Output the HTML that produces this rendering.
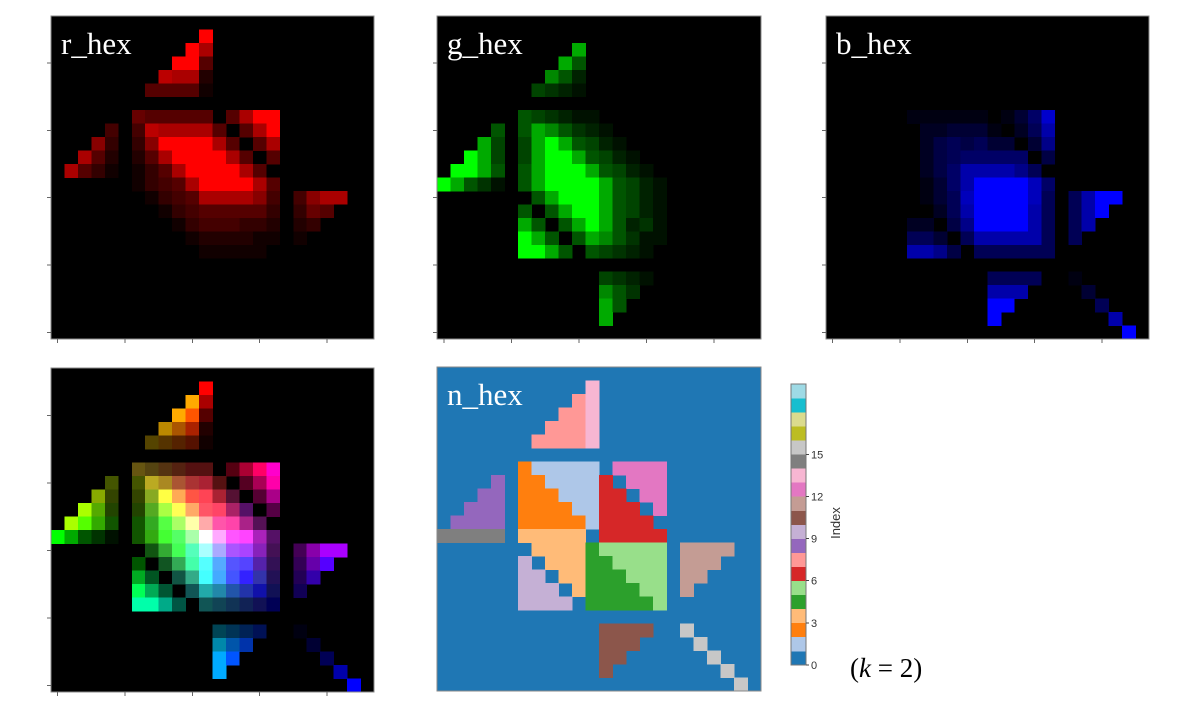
<!DOCTYPE html>
<html><head><meta charset="utf-8"><style>
html,body{margin:0;padding:0;background:#fff;}
svg{display:block;}
text{font-family:"Liberation Serif",serif;}
</style></head>
<body>
<svg id="fig" width="1184" height="716" viewBox="0 0 1184 716" xmlns="http://www.w3.org/2000/svg" shape-rendering="crispEdges"></svg>
<script>
const categoriesIndex = ["0","1","2","3","4","5","6","7","8","9","10","11","12","13","14","15","16","17","18","19"];
const palette = ["#1f77b4","#aec7e8","#ff7f0e","#ffbb78","#2ca02c","#98df8a","#d62728","#ff9896","#9467bd","#c5b0d5","#8c564b","#c49c94","#e377c2","#f7b6d2","#7f7f7f","#c7c7c7","#bcbd22","#dbdb8d","#17becf","#9edae5"];
const colorbarTicks = [0,3,6,9,12,15];
const axisTicks = [0,5,10,15,20];
const nRows = [
"000000000000000000000000",
"00000000000d000000000000",
"00000000007d000000000000",
"00000000077d000000000000",
"00000000777d000000000000",
"00000007777d000000000000",
"000000000000000000000000",
"0000002111110cccc0000000",
"00008022111160ccc0000000",
"000880222111660cc0000000",
"0088802222116660c0000000",
"088880222221666600000000",
"eeeee0333330666660000000",
"000000033334555550bbbb00",
"000000903334455550bbb000",
"000000990334445550bb0000",
"000000999034444550b00000",
"000000999904444450000000",
"000000000000000000000000",
"000000000000aaaa00f00000",
"000000000000aaa0000f0000",
"000000000000aa000000f000",
"000000000000a00000000f00",
"0000000000000000000000f0"
];
const rgbRows = [
"",
"11=f00",
"10=fa0 11=a00",
"9=fa0 10=f50 11=500",
"8=b80 9=a50 10=a20 11=200",
"7=540 8=530 9=520 10=510 11=100",
"",
"6=651 7=541 8=531 9=521 10=511 11=511 13=501 14=a03 15=f06 16=f0c",
"4=450 6=450 7=ba2 8=a82 9=a53 10=a33 11=a23 12=511 14=502 15=a05 16=f0a",
"3=8a0 4=340 6=340 7=8a2 8=ff4 9=fa5 10=f54 11=f45 12=a23 13=513 15=503 16=a08",
"2=af0 3=5a0 4=240 6=240 7=5a2 8=af4 9=ff5 10=fa6 11=f56 12=f46 13=a26 14=516 16=504",
"1=af0 2=5f0 3=3a0 4=150 6=150 7=3a2 8=5f4 9=af6 10=ffa 11=faa 12=f5a 13=f4a 14=a28 15=515",
"0=0f0 1=0a0 2=050 3=030 4=010 6=150 7=3a1 8=4f3 9=5f6 10=afa 11=fff 12=faf 13=f5f 14=f4f 15=a2b 16=516",
"7=151 8=3a3 9=4f5 10=5fb 11=aff 12=aaf 13=a5f 14=a4f 15=82b 16=415 18=405 19=80a 20=a0f 21=a0f",
"6=050 8=152 9=3a5 10=4fa 11=5ff 12=5af 13=55f 14=54f 15=52a 16=315 18=305 19=60a 20=50f",
"6=0a2 7=052 9=154 10=3a8 11=4ff 12=4af 13=45f 14=32f 15=33a 16=215 18=205 19=30a",
"6=0f5 7=0a5 8=053 10=155 11=2aa 12=28a 13=25a 14=23a 15=11a 16=115 18=105",
"6=0fa 7=0fa 8=0a8 9=054 11=155 12=145 13=135 14=125 15=115 16=005",
"",
"12=045 13=035 14=025 15=015 18=001",
"12=08a 13=05a 14=03a 19=003",
"12=0af 13=05f 20=005",
"12=0af 21=00a",
"22=00f"
];
const panelTitles = ["r_hex","g_hex","b_hex","","n_hex"];

const NS="http://www.w3.org/2000/svg";
const svg=document.getElementById('fig');
function mk(tag,attrs,parent){const e=document.createElementNS(NS,tag);for(const k in attrs)e.setAttribute(k,attrs[k]);(parent||svg).appendChild(e);return e;}
const N=24;
function parseRgb(){const g=[];for(let r=0;r<N;r++){const row=new Array(N).fill(null);rgbRows[r].split(" ").filter(s=>s).forEach(t=>{const [c,h]=t.split("=");row[+c]=[parseInt(h[0],16)*17,parseInt(h[1],16)*17,parseInt(h[2],16)*17];});g.push(row);}return g;}
const rgb=parseRgb();
const panels=[
 {x:51,y:16,w:323,h:323,mode:0,ticks:true},
 {x:437,y:16,w:324,h:323,mode:1,ticks:true},
 {x:826,y:16,w:323,h:323,mode:2,ticks:true},
 {x:51,y:368,w:323,h:324,mode:3,ticks:true},
 {x:437,y:367,w:324,h:324,mode:4,ticks:false}
];
panels.forEach((p,pi)=>{
  const g=mk('g',{});
  
  
  const cw=p.w/N, ch=p.h/N;
  const xs=c=>p.x+c*cw, ys=r=>p.y+r*ch;
  const bg=mk('rect',{x:p.x,y:p.y,width:p.w,height:p.h,fill:p.mode===4?palette[0]:'#000'},g);
  
  
  for(let r=0;r<N;r++)for(let c=0;c<N;c++){
    let fill=null;
    if(p.mode===4){const v=parseInt(nRows[r][c],20);if(v>0)fill=palette[v];}
    else{const v=rgb[r][c];if(v){const col=p.mode===3?v:[p.mode===0?v[0]:0,p.mode===1?v[1]:0,p.mode===2?v[2]:0];if(col[0]+col[1]+col[2]>0)fill=`rgb(${col[0]},${col[1]},${col[2]})`;}}
    if(fill){const e=mk('rect',{x:xs(c).toFixed(2),y:ys(r).toFixed(2),width:(cw+0.3).toFixed(2),height:(ch+0.3).toFixed(2),fill:fill},g);
      
      }
  }
  const fr=mk('rect',{x:p.x,y:p.y,width:p.w,height:p.h,fill:'none',stroke:'#8a8a8a','stroke-width':1},g);
  
  
  if(p.ticks){
    axisTicks.forEach(t=>{
      const tx=xs(t+0.5);
      const a=mk('line',{x1:tx,x2:tx,y1:p.y+p.h,y2:p.y+p.h+4,stroke:'#666'},g);
      
      
      const ty=ys(N-1-t+0.5);
      const b=mk('line',{x1:p.x-4,x2:p.x,y1:ty,y2:ty,stroke:'#666'},g);
      
      
    });
  }
  if(panelTitles[pi]){
    const t=mk('text',{x:p.x+10,y:p.y+38,fill:'#fff','font-size':31},g);
    t.textContent=panelTitles[pi];
    
    
  }
});
// colorbar
const cb={x:791,y:384,w:15,h:281};
const cbg=mk('g',{});


const cbY=v=>cb.y+cb.h-v*(cb.h/categoriesIndex.length);
categoriesIndex.forEach((c,i)=>{
  const e=mk('rect',{x:cb.x,y:cbY(i+1).toFixed(2),width:cb.w,height:(cb.h/20+0.3).toFixed(2),fill:palette[i]},cbg);
  
  
});
mk('rect',{x:cb.x,y:cb.y,width:cb.w,height:cb.h,fill:'none',stroke:'#777'},cbg);
colorbarTicks.forEach(v=>{
  const y=cbY(v);
  const l=mk('line',{x1:cb.x+cb.w,x2:cb.x+cb.w+3,y1:y,y2:y,stroke:'#444'},cbg);
  
  
  const t=mk('text',{x:cb.x+cb.w+5,y:y+4,'font-size':11,fill:'#333',style:'font-family:"Liberation Sans",sans-serif'},cbg);
  t.textContent=String(v);
  
  
});
const idx=mk('text',{x:0,y:0,'font-size':13,fill:'#333','text-anchor':'middle',transform:'translate(840,523) rotate(-90)',style:'font-family:"Liberation Sans",sans-serif'});
idx.textContent='Index';


const k=mk('text',{x:850,y:677,'font-size':27,fill:'#000'});
k.innerHTML='(<tspan font-style="italic">k</tspan> = 2)';


</script>
</body></html>
